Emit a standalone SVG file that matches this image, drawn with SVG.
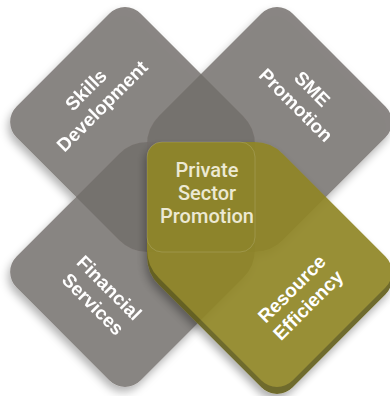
<svg xmlns="http://www.w3.org/2000/svg" width="390" height="396" viewBox="0 0 390 396">
<defs>
<filter id="sh" x="-10%" y="-10%" width="125%" height="125%">
<feGaussianBlur in="SourceAlpha" stdDeviation="4"/>
<feOffset dx="-2" dy="5" result="b"/>
<feFlood flood-color="#000" flood-opacity="0.35"/>
<feComposite in2="b" operator="in" result="s"/>
<feComposite in="s" in2="SourceAlpha" operator="out" result="s2"/>
<feMerge><feMergeNode in="s2"/><feMergeNode in="SourceGraphic"/></feMerge>
</filter>
<style>
.gray{fill:#736f6b;fill-opacity:0.84}
.olive{fill:#908627}
.side{fill:#645e1c}
.lbl{font-family:"Liberation Sans",Arial,sans-serif;font-weight:bold;font-size:19px;fill:#fff;text-anchor:middle}
.ctr{font-family:Roboto,"Liberation Sans",Arial,sans-serif;font-weight:500;font-size:20px;fill:#ece9d3;text-anchor:middle}
.edge{fill:none;stroke:#fff;stroke-opacity:0.18;stroke-width:0.8}
</style>
</defs>
<rect width="390" height="396" fill="#fff"/>
<g id="petals" filter="url(#sh)">
<g id="skills-development">
<path class="gray" d="M109.44,13.56 A22,22 0 0 1 140.56,13.56 L243.28,116.28 A40,40 0 0 1 255,144.57 L255,237 A15,15 0 0 1 240,252 L147.57,252 A40,40 0 0 1 119.28,240.28 L16.56,137.56 A22,22 0 0 1 16.56,106.44 Z"/>
<text class="lbl" transform="translate(94,98) rotate(-45)"><tspan x="0" y="-5">Skills</tspan><tspan x="0" y="18">Development</tspan></text>
</g>
<g id="sme-promotion">
<path class="gray" d="M292.56,13.56 A22,22 0 0 0 261.44,13.56 L158.72,116.28 A40,40 0 0 0 147,144.57 L147,237 A15,15 0 0 0 162,252 L254.43,252 A40,40 0 0 0 282.72,240.28 L385.44,137.56 A22,22 0 0 0 385.44,106.44 Z"/>
<text class="lbl" transform="translate(304,97) rotate(45)"><tspan x="0" y="-5">SME</tspan><tspan x="0" y="18">Promotion</tspan></text>
</g>
<g id="financial-services">
<path class="gray" d="M109.44,380.44 A22,22 0 0 0 140.56,380.44 L243.28,277.72 A40,40 0 0 0 255,249.43 L255,157 A15,15 0 0 0 240,142 L147.57,142 A40,40 0 0 0 119.28,153.72 L16.56,256.44 A22,22 0 0 0 16.56,287.56 Z"/>
<text class="lbl" transform="translate(101,296) rotate(45)"><tspan x="0" y="-5">Financial</tspan><tspan x="0" y="18">Services</tspan></text>
</g>
</g>
<g id="resource-efficiency">
<g filter="url(#sh)" opacity="0.92">
<path class="side" transform="translate(0,7)" d="M292.56,380.44 A22,22 0 0 1 261.44,380.44 L158.72,277.72 A40,40 0 0 1 147,249.43 L147,157 A15,15 0 0 1 162,142 L254.43,142 A40,40 0 0 1 282.72,153.72 L385.44,256.44 A22,22 0 0 1 385.44,287.56 Z"/>
<path class="olive" d="M292.56,380.44 A22,22 0 0 1 261.44,380.44 L158.72,277.72 A40,40 0 0 1 147,249.43 L147,157 A15,15 0 0 1 162,142 L254.43,142 A40,40 0 0 1 282.72,153.72 L385.44,256.44 A22,22 0 0 1 385.44,287.56 Z"/>
</g>
<text class="lbl" transform="translate(300,297) rotate(-45)"><tspan x="0" y="-5">Resource</tspan><tspan x="0" y="18">Efficiency</tspan></text>
</g>
<g id="private-sector-promotion">
<rect class="edge" x="147" y="142" width="108" height="110" rx="15"/>
<text class="ctr"><tspan x="207" y="177">Private</tspan><tspan x="207" y="200">Sector</tspan><tspan x="207" y="223">Promotion</tspan></text>
</g>
<g id="connectors"/>
</svg>
